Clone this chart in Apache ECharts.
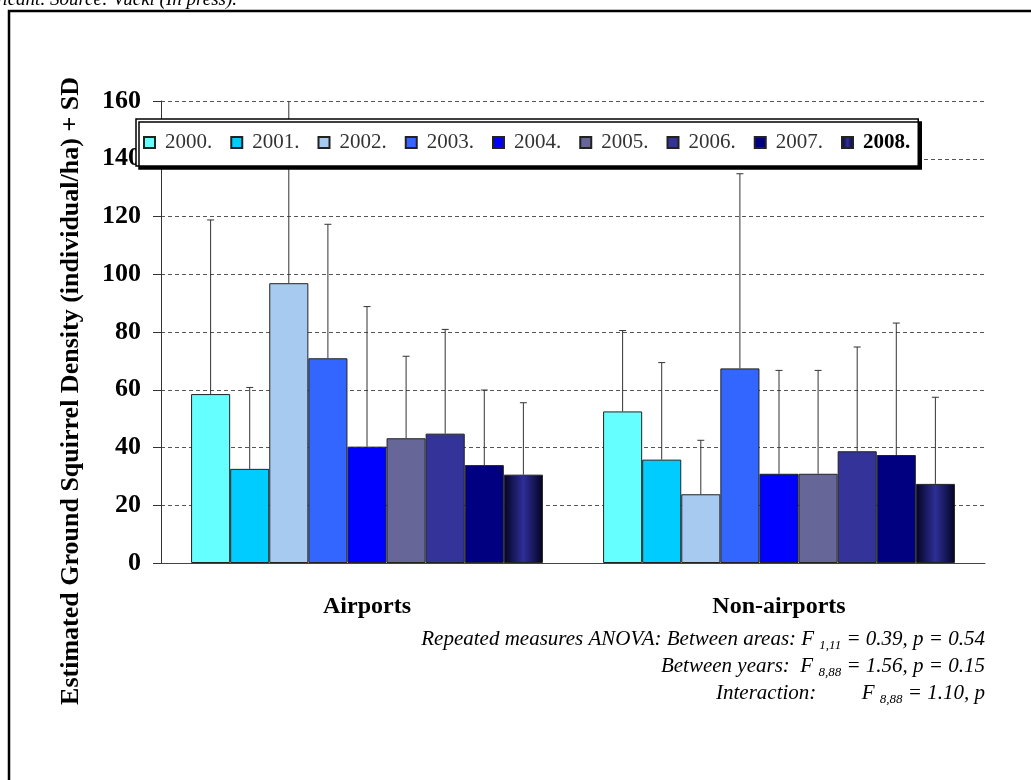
<!DOCTYPE html>
<html>
<head>
<meta charset="utf-8">
<script src="https://cdn.jsdelivr.net/npm/echarts@6/dist/echarts.min.js"></script>
<style>
html,body{margin:0;padding:0;background:#fff;}
#chart{width:1031px;height:780px;}
</style>
</head>
<body>
<div id="chart"></div>
<script>
// ---- data ----
var categories = ['Airports', 'Non-airports'];
var years = ['2000.', '2001.', '2002.', '2003.', '2004.', '2005.', '2006.', '2007.', '2008.'];
var airportMean = [58.5, 32.6, 96.9, 70.9, 40.3, 43.2, 44.8, 33.9, 30.6];
var airportSD   = [60.3, 28.2, 64.1, 46.4, 48.5, 28.4, 36.1, 26.0, 24.9];
var nonAirportMean = [52.5, 35.8, 23.8, 67.4, 30.9, 30.9, 38.7, 37.4, 27.4];
var nonAirportSD   = [28.0, 33.6, 18.7, 67.4, 35.8, 35.8, 36.1, 45.7, 30.0];
var yTicks = [0, 20, 40, 60, 80, 100, 120, 140, 160];

// ---- styles ----
var colors = ['#66FFFF', '#00CCFF', '#A6CAF0', '#3366FF', '#0000FF', '#666699', '#333399', '#000080',
  {type: 'linear', x: 0, y: 0, x2: 1, y2: 0, colorStops: [
    {offset: 0, color: '#030322'}, {offset: 0.5, color: '#2e2e98'}, {offset: 1, color: '#030322'}]}];
var CAT_GAP = 0.146;
var SERIF = '"Liberation Serif", "Times New Roman", serif';

var chart = echarts.init(document.getElementById('chart'), null, {renderer: 'canvas'});

var series = [];
years.forEach(function (y, i) {
  series.push({
    name: y,
    type: 'bar',
    data: [airportMean[i], nonAirportMean[i]],
    barGap: '0%',
    barCategoryGap: (CAT_GAP * 100) + '%',
    itemStyle: {color: colors[i], borderColor: '#222', borderWidth: 1},
    emphasis: {disabled: true},
    z: 2
  });
});

var errData = [];
for (var i = 0; i < years.length; i++) {
  errData.push([0, i, airportMean[i], airportMean[i] + airportSD[i]]);
  errData.push([1, i, nonAirportMean[i], nonAirportMean[i] + nonAirportSD[i]]);
}
var yMax = yTicks[yTicks.length - 1];
series.push({
  type: 'custom',
  data: errData,
  z: 3,
  silent: true,
  clip: true,
  renderItem: function (params, api) {
    var cat = api.value(0), idx = api.value(1), mean = api.value(2), up = api.value(3);
    var band = api.size([1, 0])[0];
    var group = band * (1 - CAT_GAP);
    var bw = group / years.length;
    var cx = api.coord([cat, 0])[0] - group / 2 + bw * (idx + 0.5);
    var y0 = api.coord([cat, mean])[1];
    var y1 = api.coord([cat, up])[1];
    var st = {stroke: '#333', lineWidth: 1};
    var children = [{type: 'line', shape: {x1: cx, y1: y0, x2: cx, y2: y1}, style: st}];
    if (up <= yMax) children.push({type: 'line', shape: {x1: cx - 3.5, y1: y1, x2: cx + 3.5, y2: y1}, style: st});
    return {type: 'group', children: children};
  }
});

var sub = {fontSize: 13, fontStyle: 'italic', fontFamily: SERIF, verticalAlign: 'bottom', lineHeight: 13, color: '#222'};
var norm = {fontSize: 21, fontStyle: 'italic', fontFamily: SERIF, lineHeight: 26, verticalAlign: 'middle', color: '#222'};

var option = {
  animation: false,
  backgroundColor: '#fff',
  color: colors,
  grid: {left: 161, right: 46, top: 101, bottom: 217, containLabel: false},
  legend: {
    data: years.map(function (y, i) {
      return i === 8 ? {name: y, textStyle: {fontWeight: 'bold', color: '#000'}} : {name: y};
    }),
    left: 136, top: 119,
    padding: [13, 8, 13, 7],
    itemGap: 18,
    itemWidth: 11, itemHeight: 11,
    icon: 'rect',
    backgroundColor: '#fff',
    borderColor: '#000', borderWidth: 1.5,
    shadowColor: '#000', shadowOffsetX: 3, shadowOffsetY: 3, shadowBlur: 0.01,
    textStyle: {fontFamily: SERIF, fontSize: 21, color: '#333', padding: [0, 0, 0, 5]},
    selectedMode: false,
    z: 10
  },
  xAxis: {
    type: 'category',
    data: categories,
    axisLine: {lineStyle: {color: '#444', width: 1}},
    axisTick: {length: 9, lineStyle: {color: '#444'}},
    axisLabel: {fontFamily: SERIF, fontWeight: 'bold', fontSize: 24, color: '#000', margin: 32}
  },
  yAxis: {
    type: 'value',
    min: 0, max: 160, interval: 20,
    axisLine: {show: true, lineStyle: {color: '#333', width: 1}},
    axisTick: {show: true, length: 8, lineStyle: {color: '#333'}},
    axisLabel: {fontFamily: SERIF, fontWeight: 'bold', fontSize: 26, color: '#000', margin: 20},
    splitLine: {show: true, lineStyle: {color: '#555', type: [4, 3], width: 1}}
  },
  series: series,
  graphic: [
    {type: 'rect', shape: {x: 9, y: 11, width: 1040, height: 800}, style: {fill: 'none', stroke: '#000', lineWidth: 2.5}, z: 1},
    {type: 'text', x: 237, y: -10, style: {text: 'not significant. Source: Vučki (In press).', font: 'italic 19px ' + SERIF, fill: '#000', textAlign: 'right'}},
    {type: 'text', x: 71, y: 391, rotation: Math.PI / 2,
      style: {text: 'Estimated Ground Squirrel Density (individual/ha) + SD', font: 'bold 26px ' + SERIF, fill: '#000', textAlign: 'center', textVerticalAlign: 'middle'}},
    {type: 'text', x: 985, y: 626,
      style: {text: '{n|Repeated measures ANOVA: Between areas: F }{s|1,11}{n| = 0.39, p = 0.54}', rich: {n: norm, s: sub}, textAlign: 'right'}},
    {type: 'text', x: 985, y: 653,
      style: {text: '{n|Between years:  F }{s|8,88}{n| = 1.56, p = 0.15}', rich: {n: norm, s: sub}, textAlign: 'right'}},
    {type: 'text', x: 716, y: 680,
      style: {text: '{n|Interaction:}', rich: {n: norm}, textAlign: 'left'}},
    {type: 'text', x: 985, y: 680,
      style: {text: '{n|F }{s|8,88}{n| = 1.10, p}', rich: {n: norm, s: sub}, textAlign: 'right'}}
  ]
};
chart.setOption(option);
</script>
</body>
</html>
